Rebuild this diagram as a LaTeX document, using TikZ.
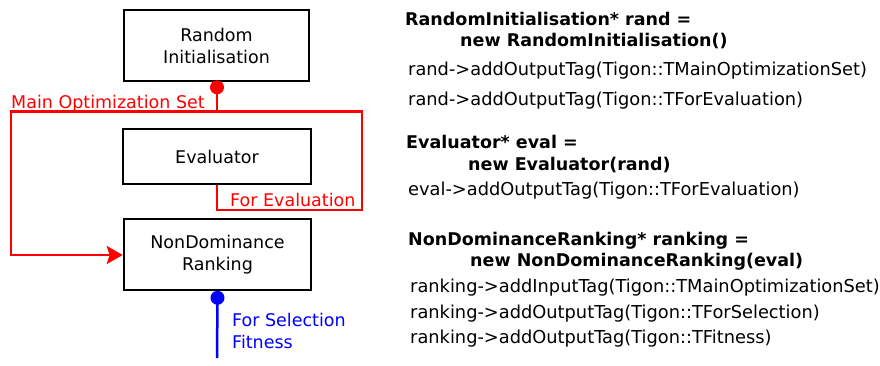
\documentclass[tikz,border=0pt]{standalone}
\usepackage{fontspec}
\setmainfont{DejaVu Sans}
\usetikzlibrary{arrows.meta,calc}
\definecolor{tagred}{RGB}{255,0,0}
\definecolor{tagblue}{RGB}{0,0,255}
\begin{document}
\begin{tikzpicture}[x=1pt,y=-1pt,
  block/.style={draw=black,line width=2.6pt,fill=white,align=center,
    inner sep=0pt,font=\fontsize{17.5}{22}\selectfont},
  wire/.style={line width=2.5pt},
  tagdot/.style={circle,inner sep=0pt,minimum size=14pt},
  taglabel/.style={font=\fontsize{17.5}{22}\selectfont,anchor=base west,inner sep=0pt},
  code/.style={font=\fontsize{17.8}{20}\selectfont,anchor=base west,inner sep=0pt},
  codebold/.style={font=\fontsize{17.5}{20}\selectfont\bfseries,anchor=base west,inner sep=0pt}]
\useasboundingbox (0,0) rectangle (880,365);

% blocks
\node[block,minimum width=185pt,minimum height=71pt] (ri) at (216.5,45.5) {Random\\Initialisation};
\node[block,minimum width=188pt,minimum height=55pt] (ev) at (217,156.5) {Evaluator};
\node[block,minimum width=187pt,minimum height=71pt] (nd) at (217.5,254.5) {NonDominance\\Ranking};

% output ports
\node[tagdot,fill=tagred] (rid) at ($(ri.south)+(0.5,5)$) {};
\node[tagdot,fill=tagblue] (ndd) at ($(nd.south)+(0,6.5)$) {};

% red routing
\coordinate (split) at (rid.center |- 0,111.5);
\coordinate (lefttop) at (11,111.5);
\coordinate (leftbot) at (11,255);
\coordinate (righttop) at (362,111.5);
\coordinate (rightbot) at (362,210);
\coordinate (evin) at (217,210);

\draw[wire,tagred] (rid.center) -- (split);
\draw[wire,tagred,line join=miter,-{Stealth[length=16pt,width=18pt,inset=3pt]}]
  (split) -- (lefttop) -- (leftbot) -- (leftbot -| nd.west);
\draw[wire,tagred,line join=miter] (split) -- (righttop) -- (rightbot) -- (evin) -- (ev.south -| evin);

% blue output
\coordinate (bend) at (217,358);
\draw[wire,tagblue] (ndd.center) -- (bend);

% tag labels
\node[taglabel,text=tagred] (lmain) at (11,108) {Main Optimization Set};
\node[taglabel,text=tagred] (leval) at (230,206) {For Evaluation};
\node[taglabel,text=tagblue] (lsel) at (232,326) {For Selection};
\node[taglabel,text=tagblue] (lfit) at (232,348) {Fitness};

% code listing
\node[codebold] (c1) at (405,25) {RandomInitialisation* rand =};
\node[codebold] (c2) at (460,46) {new RandomInitialisation()};
\node[code] (c3) at (408,75) {rand->addOutputTag(Tigon::TMainOptimizationSet)};
\node[code] (c4) at (408,105) {rand->addOutputTag(Tigon::TForEvaluation)};
\node[codebold] (c5) at (406,148) {Evaluator* eval =};
\node[codebold] (c6) at (468,170) {new Evaluator(rand)};
\node[code] (c7) at (408,195) {eval->addOutputTag(Tigon::TForEvaluation)};
\node[codebold] (c8) at (408,245) {NonDominanceRanking* ranking =};
\node[codebold] (c9) at (470,266) {new NonDominanceRanking(eval)};
\node[code] (c10) at (410,292) {ranking->addInputTag(Tigon::TMainOptimizationSet)};
\node[code] (c11) at (410,318) {ranking->addOutputTag(Tigon::TForSelection)};
\node[code] (c12) at (410,343) {ranking->addOutputTag(Tigon::TFitness)};
\end{tikzpicture}
\end{document}
